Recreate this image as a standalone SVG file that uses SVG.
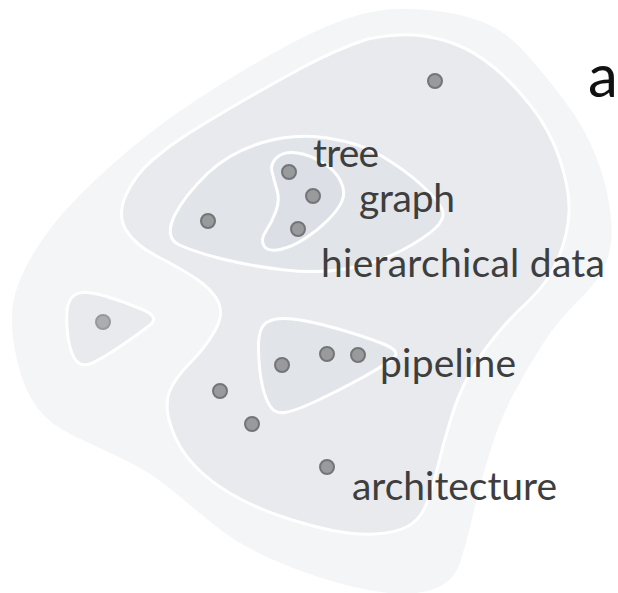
<svg xmlns="http://www.w3.org/2000/svg" width="618" height="593" viewBox="0 0 618 593">
  <style>
    .lvl1 { fill: #f4f5f7; }
    .lvl2 { fill: #e8eaee; stroke: #ffffff; stroke-width: 3; }
    .lvl3 { fill: #e1e4e9; stroke: #ffffff; stroke-width: 3; }
    .lvl4 { fill: #dcdfe5; stroke: #ffffff; stroke-width: 3; }
    .pt { fill: #999a9c; stroke: #747578; stroke-width: 2; }
    .pt-faint { fill: #acadb0; stroke: #97989b; stroke-width: 2; }
    .lbl { font-family: "Lato", "Open Sans", sans-serif; font-size: 39px; fill: #3e3e3e; }
    .big { font-family: "Lato", "Open Sans", sans-serif; font-size: 60px; fill: #111111; }
  </style>
  <rect width="618" height="593" fill="#ffffff"/>

  <!-- nested density regions, outermost first -->
  <g id="regions">
    <path id="region-outer" class="lvl1" d="M 427.5,10 Q 455,12 480,21 Q 505,30 525,52.5 Q 545,75 565,101.5 Q 585,128 596,156.5 Q 607,185 610.5,212.5 Q 614,240 607,260 Q 600,280 580,299 Q 560,318 543.5,343 Q 527,368 513.5,394 Q 500,420 490.5,450 Q 481,480 474,510 Q 467,540 461,560 Q 455,580 437.5,587.5 Q 420,595 395,593.5 Q 370,592 335,582 Q 300,572 268,557.5 Q 236,543 213,524 Q 190,505 170,488.5 Q 150,472 125,460 Q 100,448 75,436.5 Q 50,425 37,407.5 Q 24,390 17,360 Q 10,330 12.5,307.5 Q 15,285 32.5,255 Q 50,225 80,195 Q 110,165 140,141 Q 170,117 202.5,96 Q 235,75 270,55 Q 305,35 332.5,24 Q 360,13 380,10.5 Q 400,8 427.5,10 Z"/>
    <path id="region-main" class="lvl2" d="M 420,35.5 Q 440,38 457.5,45 Q 475,52 493.5,67 Q 512,82 531,106 Q 550,130 560,160 Q 570,190 569,212.5 Q 568,235 558,259 Q 548,283 529,300.5 Q 510,318 495,336.5 Q 480,355 469,375 Q 458,395 450.5,420 Q 443,445 437.5,467.5 Q 432,490 426,505 Q 420,520 407.5,526.5 Q 395,533 375,534 Q 355,535 332.5,530.5 Q 310,526 283,517 Q 256,508 233,495 Q 210,482 194,465 Q 178,448 171,426.5 Q 164,405 169.5,391.5 Q 175,378 190,363 Q 205,348 214.5,331.5 Q 224,315 218.5,302.5 Q 213,290 196.5,279 Q 180,268 157.5,256.5 Q 135,245 126,230 Q 117,215 126,195 Q 135,175 152.5,160 Q 170,145 190,132.5 Q 210,120 240,102.5 Q 270,85 302.5,67.5 Q 335,50 367.5,39 Q 400,33 420,35.5 Z"/>
    <path id="region-left" class="lvl2" d="M 76.5,294 Q 85,290 105,296 Q 125,302 142.5,309.5 Q 160,317 150,325 Q 140,333 120,346.5 Q 100,360 91,363.5 Q 82,367 76.5,361 Q 71,355 68.5,340 Q 66,325 67,311.5 Q 68,298 76.5,294 Z"/>
    <path id="region-hierarchical" class="lvl3" d="M 174.5,215.5 Q 185,195 207.5,173.5 Q 230,152 262.5,142.5 Q 295,133 327.5,138 Q 360,143 382.5,156.5 Q 405,170 421.5,185 Q 438,200 442,209 Q 446,218 435.5,228 Q 425,238 402.5,250 Q 380,262 350,268 Q 320,274 285,270 Q 250,266 222.5,259 Q 195,252 179.5,245 Q 164,238 174.5,215.5 Z"/>
    <path id="region-pipeline" class="lvl3" d="M 266.5,322.5 Q 275,317 292.5,319 Q 310,321 335,328 Q 360,335 381,343 Q 402,351 393.5,358 Q 385,365 362.5,377.5 Q 340,390 317.5,400.5 Q 295,411 285,412.5 Q 275,414 270,406 Q 265,398 262,384 Q 259,370 258.5,349 Q 258,328 266.5,322.5 Z"/>
    <path id="region-tree-graph" class="lvl4" d="M 277.5,157 Q 285,151 297.5,153 Q 310,155 322.5,162.5 Q 335,170 340.5,181 Q 346,192 342,201 Q 338,210 328,220 Q 318,230 305,238.5 Q 292,247 280,249.5 Q 268,252 264,246 Q 260,240 266,231 Q 272,222 276,211 Q 280,200 277,190 Q 274,180 272,171.5 Q 270,163 277.5,157 Z"/>
  </g>

  <!-- data points -->
  <g id="points">
    <g id="p-top"><circle class="pt" cx="435" cy="81" r="7"/></g>
    <g id="p-tree"><circle class="pt" cx="289" cy="172" r="7"/></g>
    <g id="p-graph"><circle class="pt" cx="313" cy="196" r="7"/></g>
    <g id="p-hier"><circle class="pt" cx="298" cy="229" r="7"/></g>
    <g id="p-hier-left"><circle class="pt" cx="208" cy="221" r="7"/></g>
    <g id="p-left"><circle class="pt-faint" cx="103" cy="322" r="7"/></g>
    <g id="p-pipe-1"><circle class="pt" cx="282" cy="365" r="7"/></g>
    <g id="p-pipe-2"><circle class="pt" cx="327" cy="354" r="7"/></g>
    <g id="p-pipe-3"><circle class="pt" cx="358" cy="355" r="7"/></g>
    <g id="p-mid-1"><circle class="pt" cx="220" cy="391" r="7"/></g>
    <g id="p-mid-2"><circle class="pt" cx="252" cy="424" r="7"/></g>
    <g id="p-arch"><circle class="pt" cx="327" cy="467" r="7"/></g>
  </g>

  <!-- labels -->
  <g id="labels">
    <text class="lbl" x="313" y="167" textLength="66">tree</text>
    <text class="lbl" x="359" y="212" textLength="96">graph</text>
    <text class="lbl" x="321" y="277" textLength="284">hierarchical data</text>
    <text class="lbl" x="380" y="377" textLength="136">pipeline</text>
    <text class="lbl" x="352" y="500" textLength="205">architecture</text>
    <text class="big" x="588" y="97">a</text>
  </g>
</svg>
